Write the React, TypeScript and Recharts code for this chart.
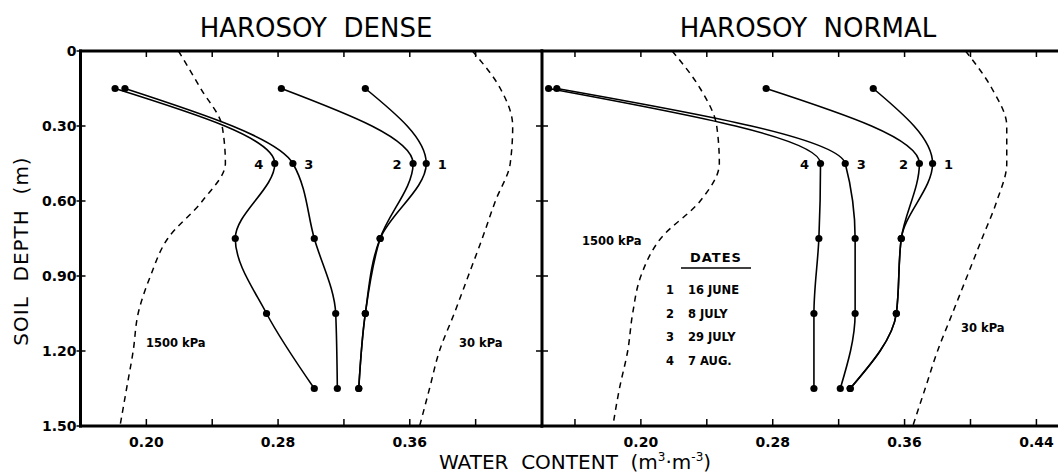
import { LineChart, Line, XAxis, YAxis } from 'recharts';

// depths (m) of the sampled points and of the retention curves
const sampleDepths = [0.15, 0.45, 0.75, 1.05, 1.35];
const curveDepths = [0, 0.15, 0.3, 0.45, 0.6, 0.75, 0.9, 1.05, 1.2, 1.35, 1.5];

// HAROSOY DENSE, water content (m3/m3)
const dense1 = [0.333, 0.370, 0.342, 0.333, 0.329];
const dense2 = [0.282, 0.362, 0.342, 0.333, 0.329];
const dense3 = [0.187, 0.289, 0.302, 0.315, 0.316];
const dense4 = [0.181, 0.278, 0.254, 0.273, 0.302];
const dense1500 = [0.2195, 0.233, 0.246, 0.248, 0.234, 0.213, 0.2025, 0.195, 0.192, 0.188, 0.184];
const dense30 = [0.398, 0.415, 0.4225, 0.421, 0.412, 0.404, 0.3955, 0.387, 0.378, 0.372, 0.366];

// HAROSOY NORMAL
const normal1 = [0.341, 0.377, 0.358, 0.355, 0.327];
const normal2 = [0.276, 0.369, 0.358, 0.355, 0.327];
const normal3 = [0.149, 0.324, 0.330, 0.330, 0.321];
const normal4 = [0.144, 0.309, 0.308, 0.305, 0.305];
const normal1500 = [0.219, 0.236, 0.246, 0.2476, 0.236, 0.212, 0.2, 0.195, 0.192, 0.187, 0.183];
const normal30 = [0.397, 0.413, 0.422, 0.422, 0.416, 0.407, 0.398, 0.389, 0.380, 0.3725, 0.365];

const yTicks = [0, 0.3, 0.6, 0.9, 1.2, 1.5];
const denseTicks = [0.2, 0.24, 0.28, 0.32, 0.36, 0.4];
const denseLabels = [0.2, 0.28, 0.36];
const normalTicks = [0.16, 0.2, 0.24, 0.28, 0.32, 0.36, 0.4, 0.44];
const normalLabels = [0.2, 0.28, 0.36, 0.44];

const dateNums = ['1', '2', '3', '4'];
const dateNames = ['16 JUNE', '8 JULY', '29 JULY', '7 AUG.'];

const FONT = '"DejaVu Sans", Verdana, sans-serif';

const rows = (ds: number[], vs: number[]) => ds.map((d, i) => ({ d, v: vs[i] }));

const has = (list: number[], v: number) => list.some((l) => Math.abs(l - v) < 1e-6);

const bottomTick = (labels: number[]) => (p: any) => (
  <g>
    <line x1={p.x} x2={p.x} y1={p.y} y2={p.y - 7} stroke="#000" strokeWidth={1.5} />
    {has(labels, p.payload.value) && (
      <text x={p.x} y={p.y + 21} textAnchor="middle" fontSize={14} fontWeight="bold" fontFamily={FONT}>
        {p.payload.value.toFixed(2)}
      </text>
    )}
  </g>
);

const topTick = (p: any) => (
  <line x1={p.x} x2={p.x} y1={p.y} y2={p.y + 6} stroke="#000" strokeWidth={1.5} />
);

const leftTick = (p: any) => (
  <g>
    <line x1={p.x - 4} x2={p.x + 5} y1={p.y} y2={p.y} stroke="#000" strokeWidth={1.5} />
    <text x={p.x - 4} y={p.y} dy={5} textAnchor="end" fontSize={14} fontWeight="bold" fontFamily={FONT}>
      {p.payload.value === 0 ? '0' : p.payload.value.toFixed(2)}
    </text>
  </g>
);

const crossTick = (p: any) => (
  <line x1={p.x - 6} x2={p.x + 6} y1={p.y} y2={p.y} stroke="#000" strokeWidth={1.5} />
);

// curve number next to the 0.45 m point; side -1 = left, 1 = right
const numLabel = (num: string, side: number) => (p: any) =>
  p.index === 1 ? (
    <text x={p.x + side * 16} y={p.y} dy={5} textAnchor="middle" fontSize={13} fontWeight="bold" fontFamily={FONT}>
      {num}
    </text>
  ) : null;

type Series = { num: string; values: number[]; side: number };

const axisLine = { stroke: '#000', strokeWidth: 3, strokeLinecap: 'square' as const };

function Panel(props: {
  left: number;
  width: number;
  yWidth: number;
  rightMargin: number;
  domain: [number, number];
  ticks: number[];
  labels: number[];
  series: Series[];
  dashed: number[][];
  outerAxis: boolean;
}) {
  const { left, width, yWidth, rightMargin, domain, ticks, labels, series, dashed, outerAxis } = props;
  return (
    <div style={{ position: 'absolute', left, top: 0 }}>
      <LineChart width={width} height={476} layout="vertical" margin={{ top: 46, right: rightMargin, bottom: 20, left: 0 }}>
        <XAxis type="number" domain={domain} ticks={ticks} interval={0} allowDataOverflow
          tickSize={0} tickMargin={0} height={30} axisLine={axisLine} tickLine={false} tick={bottomTick(labels)} />
        <XAxis xAxisId="top" orientation="top" type="number" domain={domain} ticks={ticks} interval={0} allowDataOverflow
          tickSize={0} tickMargin={0} height={5} axisLine={axisLine} tickLine={false} tick={topTick} />
        <YAxis type="number" dataKey="d" domain={[0, 1.5]} ticks={yTicks} interval={0} width={yWidth}
          tickSize={0} tickMargin={0} axisLine={axisLine} tickLine={false} tick={outerAxis ? leftTick : crossTick} />
        {dashed.map((vs, i) => (
          <Line key={'c' + i} data={rows(curveDepths, vs)} dataKey="v" type="monotone" stroke="#000"
            strokeWidth={1.5} strokeDasharray="6 5" dot={false} isAnimationActive={false} />
        ))}
        {series.map((s) => (
          <Line key={s.num} data={rows(sampleDepths, s.values)} dataKey="v" type="monotone" stroke="#000"
            strokeWidth={1.6} dot={{ r: 3.6, fill: '#000', stroke: 'none' }} isAnimationActive={false}
            label={numLabel(s.num, s.side)} />
        ))}
      </LineChart>
    </div>
  );
}

export default function App() {
  const small = { fontSize: 11.5, fontWeight: 'bold' as const, fontFamily: FONT };
  return (
    <div style={{ position: 'absolute', left: 0, top: 0, width: 1058, height: 476, background: '#fff', overflow: 'hidden' }}>
      <Panel left={0} width={560} yWidth={80.5} rightMargin={18.5} domain={[0.16, 0.44]}
        ticks={denseTicks} labels={denseLabels} outerAxis dashed={[dense1500, dense30]}
        series={[
          { num: '1', values: dense1, side: 1 },
          { num: '2', values: dense2, side: -1 },
          { num: '3', values: dense3, side: 1 },
          { num: '4', values: dense4, side: -1 },
        ]} />
      <Panel left={531.5} width={526.5} yWidth={10} rightMargin={0} domain={[0.14, 0.4534]}
        ticks={normalTicks} labels={normalLabels} outerAxis={false} dashed={[normal1500, normal30]}
        series={[
          { num: '1', values: normal1, side: 1 },
          { num: '2', values: normal2, side: -1 },
          { num: '3', values: normal3, side: 1 },
          { num: '4', values: normal4, side: -1 },
        ]} />
      <svg width={1058} height={476} style={{ position: 'absolute', left: 0, top: 0, pointerEvents: 'none' }}>
        <text x={316} y={37} textAnchor="middle" fontSize={26} fontFamily={FONT} style={{ whiteSpace: 'pre' }}>HAROSOY  DENSE</text>
        <text x={808} y={37} textAnchor="middle" fontSize={26} fontFamily={FONT} style={{ whiteSpace: 'pre' }}>HAROSOY  NORMAL</text>
        <text x={21} y={251} transform="rotate(-90 21 251)" textAnchor="middle" dominantBaseline="central"
          fontSize={20} fontFamily={FONT} letterSpacing={1} style={{ whiteSpace: 'pre' }}>SOIL  DEPTH  (m)</text>
        <text x={575} y={469} textAnchor="middle" fontSize={20} fontFamily={FONT} style={{ whiteSpace: 'pre' }}>
          <tspan>WATER  CONTENT  (m</tspan>
          <tspan dy={-8} fontSize={12}>3</tspan>
          <tspan dy={8}>·m</tspan>
          <tspan dy={-8} fontSize={12}>-3</tspan>
          <tspan dy={8}>)</tspan>
        </text>
        <text x={146} y={347} {...small}>1500 kPa</text>
        <text x={459} y={347} {...small}>30 kPa</text>
        <text x={582} y={245} {...small}>1500 kPa</text>
        <text x={961} y={332} {...small}>30 kPa</text>
        <text x={716} y={262} textAnchor="middle" fontSize={13} fontWeight="bold" fontFamily={FONT} letterSpacing={1}>DATES</text>
        <line x1={681} x2={751} y1={268} y2={268} stroke="#000" strokeWidth={1.5} />
        {dateNums.map((n, i) => (
          <g key={n}>
            <text x={670} y={294 + i * 23.5} textAnchor="middle" {...small}>{n}</text>
            <text x={688} y={294 + i * 23.5} {...small}>{dateNames[i]}</text>
          </g>
        ))}
      </svg>
    </div>
  );
}
